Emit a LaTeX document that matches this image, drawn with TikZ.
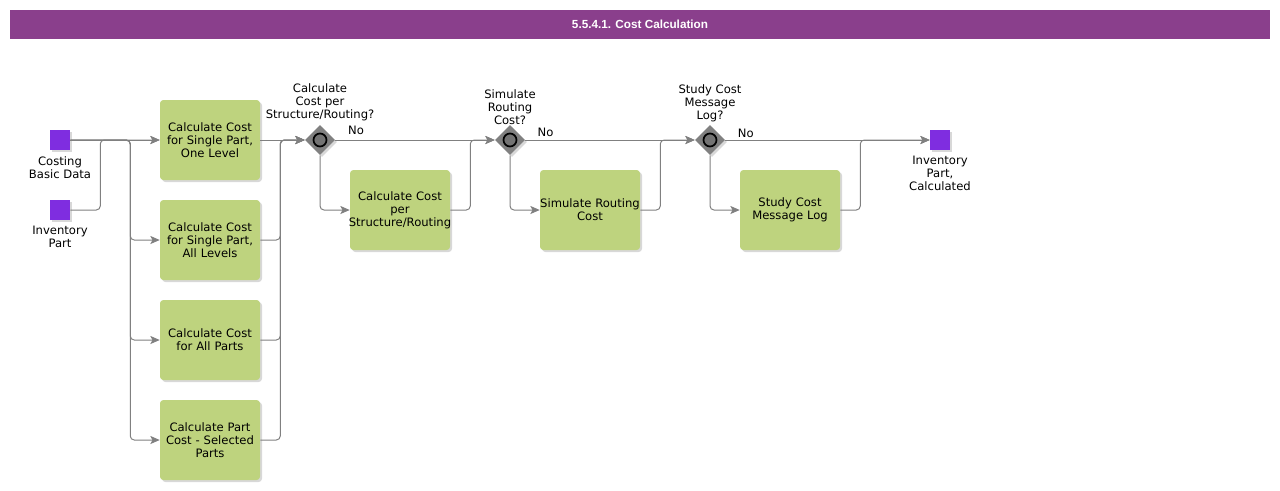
\documentclass[tikz,border=0pt]{standalone}
\usepackage{fontspec}
\setmainfont{DejaVu Sans}
\newfontfamily\titlefont{Liberation Sans}
\usetikzlibrary{positioning,shapes.geometric,shadows,arrows.meta}

\definecolor{titulo}{HTML}{8A3F8C}
\definecolor{verdetarea}{HTML}{BED37E}
\definecolor{violeta}{HTML}{7F2DE0}
\definecolor{gris}{HTML}{808080}

\begin{document}
\begin{tikzpicture}[x=0.75pt,y=-0.75pt,
  font=\fontsize{8.7}{9.75}\selectfont,
  sombra/.style={drop shadow={shadow xshift=1.5pt,shadow yshift=-1.5pt,fill=black!30}},
  tarea/.style={fill=verdetarea,rounded corners=2.5pt,minimum width=75pt,minimum height=60pt,
    text width=73pt,align=center,inner sep=1pt,sombra},
  dato/.style={fill=violeta,minimum size=15pt,inner sep=0pt,sombra},
  puerta/.style={diamond,fill=gris,minimum width=22.5pt,minimum height=22.5pt,inner sep=0pt,sombra},
  etiq/.style={align=center,inner sep=1pt},
  flujo/.style={draw=gris,line width=0.75pt,rounded corners=3pt,-{Stealth[length=7pt,width=6pt,inset=1.5pt]}}]
  \useasboundingbox (0,0) rectangle (1280,490);

  % Barra de título
  \node[fill=titulo,minimum width=945pt,minimum height=21.75pt,inner sep=0pt,text=white,
    font=\titlefont\bfseries\fontsize{8.8}{10}\selectfont] (barra) at (640,24.5) {5.5.4.1. Cost Calculation};

  % Datos de entrada y salida
  \node[dato] (basico) at (60,140) {};
  \node[etiq,below=3.5pt of basico] (basicoLbl) {Costing\\Basic Data};
  \node[dato] (parte) at (60,210) {};
  \node[etiq,below=3.5pt of parte] (parteLbl) {Inventory\\Part};
  \node[dato] (salida) at (940,140) {};
  \node[etiq,below=3.5pt of salida] (salidaLbl) {Inventory\\Part,\\Calculated};

  % Tareas de cálculo
  \node[tarea] (unNivel) at (210,140) {Calculate Cost\\for Single Part,\\One Level};
  \node[tarea] (todosNiv) at (210,240) {Calculate Cost\\for Single Part,\\All Levels};
  \node[tarea] (todas) at (210,340) {Calculate Cost\\for All Parts};
  \node[tarea] (selec) at (210,440) {Calculate Part\\Cost - Selected\\Parts};

  % Compuertas
  \node[puerta] (g1) at (320,140) {};
  \node[puerta] (g2) at (510,140) {};
  \node[puerta] (g3) at (710,140) {};
  \foreach \g in {g1,g2,g3}
    \draw[line width=1.3pt,fill=gris!90!black] (\g) circle (6.5);
  \node[etiq,above=1.5pt of g1] (g1Lbl) {Calculate\\Cost per\\Structure/Routing?};
  \node[etiq,above=-1pt of g2] (g2Lbl) {Simulate\\Routing\\Cost?};
  \node[etiq,above=1pt of g3] (g3Lbl) {Study Cost\\Message\\Log?};

  % Tareas opcionales
  \node[tarea] (estruct) at (400,210) {Calculate Cost\\per\\\makebox[73pt]{Structure/Routing}};
  \node[tarea] (simular) at (590,210) {\makebox[73pt]{Simulate Routing}\\Cost};
  \node[tarea] (estudio) at (790,210) {Study Cost\\Message Log};

  % Flujos de entrada
  \draw[flujo] (basico.east) -- (unNivel.west);
  \draw[flujo] (parte.east) -- ++(30,0) |- (unNivel.west);
  \draw[flujo] (basico.east) -- ++(60,0) |- (todosNiv.west);
  \draw[flujo] (basico.east) -- ++(60,0) |- (todas.west);
  \draw[flujo] (basico.east) -- ++(60,0) |- (selec.west);

  % Hacia la primera compuerta
  \draw[flujo] (unNivel.east) -- (g1.west);
  \draw[flujo] (todosNiv.east) -- ++(20,0) |- (g1.west);
  \draw[flujo] (todas.east) -- ++(20,0) |- (g1.west);
  \draw[flujo] (selec.east) -- ++(20,0) |- (g1.west);

  % Ramas de las compuertas
  \draw[flujo] (g1.east) -- node[pos=0.13,above=0pt] {No} (g2.west);
  \draw[flujo] (g1.south) |- (estruct.west);
  \draw[flujo] (estruct.east) -- ++(20,0) |- (g2.west);
  \draw[flujo] (g2.east) -- node[pos=0.12,above=-1pt] {No} (g3.west);
  \draw[flujo] (g2.south) |- (simular.west);
  \draw[flujo] (simular.east) -- ++(20,0) |- (g3.west);
  \draw[flujo] (g3.east) -- node[pos=0.1,above=-2pt] {No} (salida.west);
  \draw[flujo] (g3.south) |- (estudio.west);
  \draw[flujo] (estudio.east) -- ++(20,0) |- (salida.west);
\end{tikzpicture}
\end{document}
